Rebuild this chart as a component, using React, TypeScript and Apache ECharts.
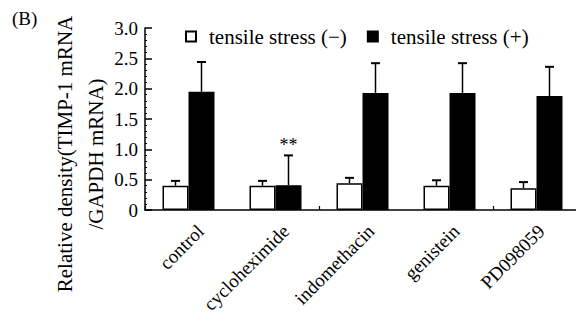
import React, { useEffect, useRef } from "react";
import * as echarts from "echarts";

const categories = ["control", "cycloheximide", "indomethacin", "genistein", "PD098059"];
const seriesNames = ["tensile stress (−)", "tensile stress (+)"];
const stressNeg = [0.4, 0.4, 0.44, 0.4, 0.36];
const stressNegErr = [0.08, 0.08, 0.09, 0.09, 0.1];
const stressPos = [1.95, 0.41, 1.93, 1.93, 1.88];
const stressPosErr = [0.49, 0.49, 0.49, 0.49, 0.48];
const stressPosMarks = ["", "**", "", "", ""];
const yMin = 0;
const yMax = 3;
const yInterval = 0.5;
const panelLabel = "(B)";
const yNameLines = ["Relative density(TIMP-1 mRNA", "/GAPDH mRNA)"];

const FONT = "'Liberation Serif', 'Times New Roman', serif";

function errSeries(vals: number[], errs: number[], offset: number, marks?: string[]) {
  return {
    type: "custom",
    xAxisIndex: 0,
    yAxisIndex: 0,
    silent: true,
    z: 5,
    data: categories.map((_, i) => [i, vals[i], vals[i] + errs[i]]),
    renderItem: (params: any, api: any) => {
      const base = api.coord([api.value(0), api.value(1)]);
      const top = api.coord([api.value(0), api.value(2)]);
      const x = base[0] + offset;
      const children: any[] = [
        { type: "line", shape: { x1: x, y1: base[1], x2: x, y2: top[1] }, style: { stroke: "#000", lineWidth: 1.5 } },
        { type: "line", shape: { x1: x - 4.5, y1: top[1], x2: x + 4.5, y2: top[1] }, style: { stroke: "#000", lineWidth: 2 } },
      ];
      const mark = marks ? marks[params.dataIndex] : "";
      if (mark) {
        children.push({
          type: "text",
          style: {
            text: mark,
            x: x,
            y: top[1] - 1,
            textAlign: "center",
            textVerticalAlign: "bottom",
            font: `18px ${FONT}`,
            fill: "#000",
          },
        });
      }
      return { type: "group", children };
    },
  };
}

export default function App() {
  const ref = useRef<HTMLDivElement>(null);
  useEffect(() => {
    if (!ref.current) return;
    const chart = echarts.init(ref.current, undefined, { renderer: "svg" });
    const option: any = {
      animation: false,
      backgroundColor: "#fff",
      textStyle: { fontFamily: FONT, color: "#000" },
      legend: {
        left: 180,
        top: 21,
        itemWidth: 10,
        itemHeight: 10,
        itemGap: 20,
        icon: "rect",
        textStyle: { fontFamily: FONT, fontSize: 21, color: "#000", padding: [0, 0, 0, 8] },
        data: seriesNames,
      },
      grid: [
        { left: 145, right: 4, top: 28, bottom: 112, containLabel: false },
        { left: 158, top: 28, width: 435, height: 182, containLabel: false },
      ],
      xAxis: [
        {
          type: "category",
          gridIndex: 0,
          data: categories,
          axisLine: { show: true, lineStyle: { color: "#000", width: 1.5 } },
          axisTick: { show: true, inside: true, length: 4, alignWithLabel: false, lineStyle: { color: "#000", width: 1.2 } },
          axisLabel: { show: false },
          splitLine: { show: false },
        },
        {
          type: "category",
          gridIndex: 1,
          data: categories,
          axisLine: { show: false },
          axisTick: { show: false },
          axisLabel: { show: true, rotate: 45, margin: 18, fontFamily: FONT, fontSize: 19, color: "#000" },
          splitLine: { show: false },
        },
      ],
      yAxis: [
        {
          type: "value",
          gridIndex: 0,
          min: yMin,
          max: yMax,
          interval: yInterval,
          axisLine: { show: true, lineStyle: { color: "#000", width: 1.5 } },
          axisTick: { show: true, inside: true, length: 7, lineStyle: { color: "#000", width: 1.5 } },
          minorTick: { show: true, splitNumber: 5, length: 2, lineStyle: { color: "#000", width: 1 } },
          splitLine: { show: false },
          axisLabel: {
            fontFamily: FONT,
            fontSize: 19,
            color: "#000",
            margin: 7,
            formatter: (v: number) => (v === 0 ? "0" : v.toFixed(1)),
          },
        },
        { type: "value", gridIndex: 1, min: yMin, max: yMax, show: false },
      ],
      graphic: [
        {
          type: "text",
          left: 12,
          top: 9,
          style: { text: panelLabel, font: `19px ${FONT}`, fill: "#000" },
        },
        {
          type: "text",
          x: 80,
          y: 154,
          rotation: Math.PI / 2,
          style: {
            text: yNameLines.join("\n"),
            font: `21px ${FONT}`,
            lineHeight: 31,
            fill: "#000",
            textAlign: "center",
            textVerticalAlign: "middle",
          },
        },
      ],
      series: [
        {
          name: seriesNames[0],
          type: "bar",
          xAxisIndex: 0,
          yAxisIndex: 0,
          data: stressNeg,
          barWidth: 26,
          barGap: "0%",
          itemStyle: { color: "#fff", borderColor: "#000", borderWidth: 1.5 },
        },
        {
          name: seriesNames[1],
          type: "bar",
          xAxisIndex: 0,
          yAxisIndex: 0,
          data: stressPos,
          barWidth: 26,
          barGap: "0%",
          itemStyle: { color: "#000", borderColor: "#000", borderWidth: 1.5 },
        },
        errSeries(stressNeg, stressNegErr, -13),
        errSeries(stressPos, stressPosErr, 13, stressPosMarks),
      ],
    };
    chart.setOption(option);
    return () => chart.dispose();
  }, []);
  return <div ref={ref} style={{ width: 584, height: 322, margin: -8 }} />;
}
